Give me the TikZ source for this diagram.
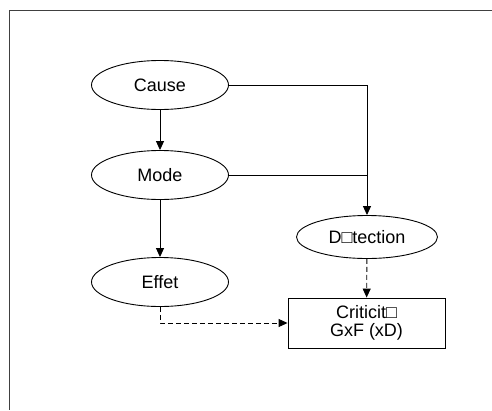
\documentclass[tikz,border=0pt]{standalone}
\usepackage{fontspec}
\setmainfont{Liberation Sans}
\usetikzlibrary{shapes.geometric,arrows.meta}

\begin{document}
\begin{tikzpicture}[
    x=1pt, y=-1pt,
    font=\fontsize{18}{21}\selectfont,
    line width=0.9pt,
    oval/.style={ellipse, draw, inner sep=0pt, minimum width=137pt, minimum height=49pt},
    block/.style={rectangle, draw, align=center, inner sep=0pt, minimum width=157pt, minimum height=50pt},
    link/.style={-{Triangle[length=9pt,width=8pt]}},
    weak/.style={link, dash pattern=on 5pt off 3pt}
]
    \useasboundingbox (0,0) rectangle (492,410);

    % Frame
    \draw[line width=1pt, black!75] (492,10) -- (9,10) -- (9,410);

    % Nodes
    \node[oval] (cause) at (160, 85) {Cause};
    \node[oval] (mode)  at (160,175) {Mode};
    \node[oval] (effet) at (160,282) {Effet};
    \node[oval, minimum width=141pt, minimum height=43pt] (detection) at (367,237) {D□tection};
    \node[block] (crit) at (366.5,323) {Criticit□\\[-3pt]GxF (xD)};

    % Corner points
    \coordinate (join) at (detection.north |- cause.east);
    \coordinate (bend) at (effet.south |- crit.west);

    % Main chain
    \draw[link] (cause) -- (mode);
    \draw[link] (mode) -- (effet);

    % Links to detection
    \draw[link] (cause.east) -- (join) -- (detection.north);
    \draw (mode.east) -- (mode.east -| join);

    % Dashed links to criticity
    \draw[weak] (detection) -- (crit);
    \draw[weak] (effet.south) -- (bend) -- (crit.west);

\end{tikzpicture}
\end{document}
